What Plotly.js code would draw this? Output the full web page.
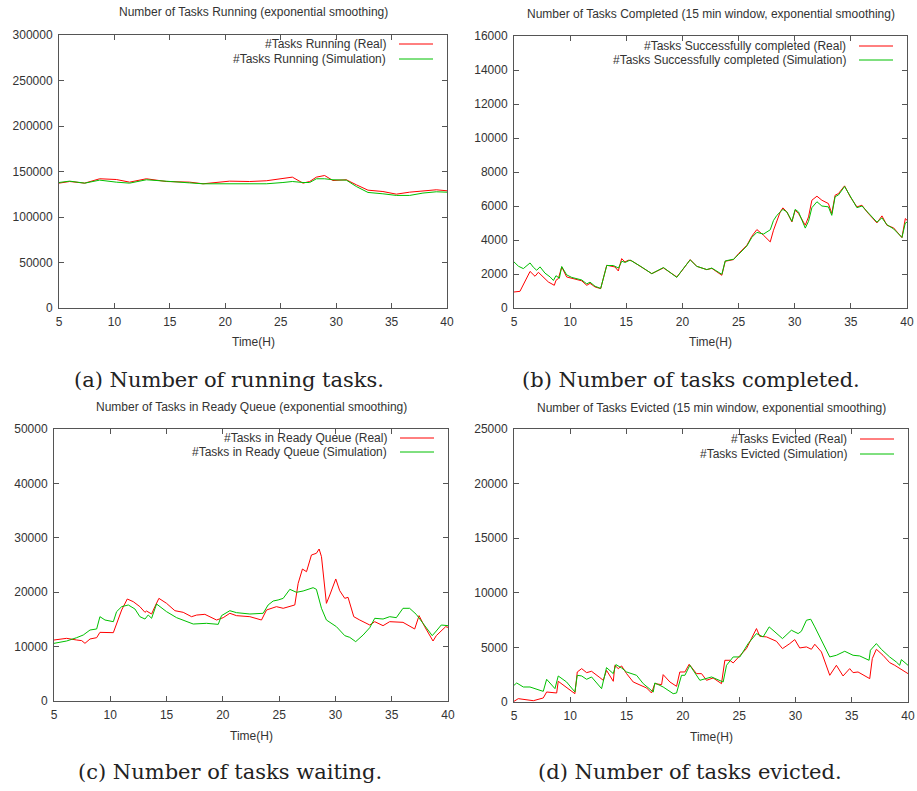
<!DOCTYPE html>
<html><head><meta charset="utf-8">
<script src="https://cdn.plot.ly/plotly-3.0.1.min.js"></script>
<style>html,body{margin:0;padding:0;background:#fff}#chart{width:917px;height:791px}</style>
</head><body><div id="chart"></div>
<script>
// ---------- Data ----------
// (a) Number of tasks running
const aRealT = [5.0,5.96,7.32,8.67,10.17,11.37,12.88,14.68,16.79,17.99,20.39,22.2,23.7,25.2,26.05,27.01,27.61,28.22,28.96,29.71,30.92,31.82,32.87,34.22,35.43,36.63,37.83,39.03,40.0];
const aRealY = [137200,139000,137200,142000,141200,138300,142000,139000,138300,136500,139400,139000,139800,142000,143800,137200,139000,143800,145600,140100,140900,135400,129500,128000,125100,127300,128400,129900,128800];
const aSimT  = aRealT;
const aSimY  = [137900,139400,137200,140500,138300,137200,140900,139000,137500,136500,136500,136800,136500,137900,139000,137900,137900,142000,142000,140900,140500,133500,127000,125500,123700,123700,126300,127700,127300];

// (b) Number of tasks completed
const bRealT = [5.0,5.53,6.43,6.87,7.17,7.61,8.06,8.59,8.74,8.95,9.25,9.69,10.59,11.03,11.48,11.77,12.22,12.72,13.26,13.99,14.29,14.59,14.88,15.18,15.47,16.23,17.27,18.31,19.5,19.94,20.69,21.28,22.17,22.62,23.51,23.81,24.55,25.0,25.74,26.18,26.63,27.22,27.82,28.11,28.41,28.71,28.95,29.3,29.75,30.04,30.34,30.64,30.94,31.23,31.53,31.98,32.42,33.0,33.3,33.6,33.9,34.44,34.95,35.54,35.99,36.43,37.32,37.77,38.21,38.81,39.55,39.85,40.0];
const bRealY = [942,980,2150,1865,2100,1826,1530,1335,1630,1730,2415,1826,1670,1600,1335,1450,1237,1140,2513,2415,2180,2905,2710,2807,2780,2454,2022,2356,1826,2180,2847,2450,2258,2330,1924,2748,2847,3200,3690,4220,4613,4280,3887,4574,5163,5654,5890,5654,5065,5750,5556,5202,4869,5360,6340,6576,6340,6144,5556,6635,6733,7185,6537,5948,6046,5654,5006,5418,4869,4712,4142,5261,5163];
const bSimT  = [5.0,5.39,5.83,6.43,6.72,7.02,7.32,7.76,8.21,8.51,8.74,9.04,9.25,9.69,10.14,10.59,11.03,11.48,11.77,12.22,12.72,13.26,13.85,14.3,14.6,14.9,15.34,16.23,17.27,18.31,19.5,19.94,20.69,21.28,22.17,22.62,23.51,23.81,24.55,25.0,25.74,26.18,26.63,27.22,27.82,28.11,28.41,28.95,29.3,29.75,30.04,30.34,30.64,30.94,31.23,31.53,31.98,32.42,33.0,33.3,33.6,33.9,34.44,34.95,35.54,35.99,36.43,37.32,37.77,38.21,38.81,39.55,39.85,40.0];
const bSimY  = [2710,2460,2317,2650,2400,2220,2420,2050,1830,1620,1900,1750,2440,1950,1800,1720,1650,1420,1520,1280,1150,2500,2500,2350,2750,2680,2820,2470,2020,2380,1800,2200,2830,2450,2260,2350,1980,2770,2870,3150,3650,4150,4450,4350,4600,5150,5450,5800,5650,5100,5800,5650,5200,4700,5100,5900,6250,6000,5950,5450,6550,6650,7150,6600,5900,6000,5700,5050,5300,4900,4650,4150,5000,5050];

// (c) Number of tasks in ready queue
const cRealT = [5.0,6.12,7.01,7.46,7.75,8.2,8.79,9.08,10.27,10.56,11.01,11.51,12.04,12.63,13.08,13.22,13.67,13.96,14.32,15.0,15.74,16.48,17.22,17.67,18.4,19.44,20.03,20.62,21.21,22.4,23.43,23.88,24.76,25.36,25.95,26.39,26.69,27.07,27.43,27.87,28.31,28.55,28.76,29.2,29.5,30.03,30.38,30.83,31.12,31.63,32.16,33.05,33.49,34.23,34.82,36.0,37.04,37.43,37.93,38.67,38.96,39.79,40.0];
const cRealY = [11213,11520,11213,11100,10600,11400,11640,12620,12560,14090,16730,18750,18260,17340,16300,16540,15990,17340,18870,17950,16600,16300,15500,15800,15930,14890,15320,16120,15690,15500,14890,16730,17340,17040,17340,17650,21630,24260,23770,26840,27150,27940,26530,17950,19490,22430,20280,18870,19060,15500,14890,13970,14580,13850,14580,14460,13240,15690,13660,11030,12010,13660,13540];
const cSimT  = [5.0,6.12,7.01,7.6,8.2,8.79,9.08,9.53,10.27,10.56,11.01,11.6,12.19,12.63,13.08,13.37,13.67,14.11,15.0,15.89,17.37,18.55,19.59,19.88,20.62,21.21,22.4,23.58,24.02,24.47,24.91,25.36,25.95,26.54,27.13,28.02,28.31,28.76,29.2,30.09,30.83,31.27,31.8,32.46,33.05,33.49,34.23,34.82,35.41,36.0,36.59,37.18,37.78,38.6,38.96,39.4,40.0];
const cSimY  = [10600,11030,11640,12130,13050,13240,15500,14890,14580,16420,17340,17650,16910,15500,15070,15810,15200,17830,16420,15320,14150,14280,14090,15690,16600,16240,15990,16120,17650,18380,18570,18870,20530,19980,20220,20830,20530,17040,14890,13660,12010,11700,10910,12130,13480,15200,15070,15500,15320,17040,17040,15930,14280,12010,12870,13970,13850];

// (d) Number of tasks evicted
const dRealT = [5.0,5.38,6.72,7.6,7.9,8.79,8.93,10.12,10.41,10.62,11.01,11.45,11.89,12.63,12.93,13.22,13.82,13.96,14.26,14.56,15.0,15.59,16.78,17.22,17.51,18.11,18.25,18.85,19.44,19.73,20.18,20.56,21.21,21.66,22.1,22.69,23.43,23.73,24.17,24.47,25.06,25.65,26.09,26.54,26.83,27.43,28.31,28.85,29.5,29.94,30.38,30.98,31.42,31.72,32.31,33.05,33.64,34.23,34.82,35.12,35.56,36.15,36.6,36.83,37.19,37.78,38.37,38.82,39.26,40.0];
const dRealY = [60,305,120,370,917,825,1895,917,764,2750,3056,2690,2812,2231,1986,2900,1895,3362,3056,3300,2600,1834,1284,825,1681,1590,2506,1834,1436,2750,2750,3454,2598,2598,1986,2200,1681,3820,3820,3576,4279,4890,5807,6724,6020,5960,5562,4890,5349,5715,4950,5043,4829,5288,4584,2445,3362,2384,3056,2690,2750,2384,2139,3973,4829,4279,3606,3362,3056,2598];
const dSimT  = [5.0,5.24,5.83,6.42,7.31,7.6,7.9,8.64,8.93,9.67,10.41,10.62,11.01,11.45,11.89,12.78,13.22,13.82,14.05,14.56,15.0,15.89,16.48,17.37,17.51,18.25,19.14,19.44,19.88,20.18,20.62,21.51,22.55,23.58,23.88,24.47,25.06,25.8,26.54,27.13,27.67,28.31,28.85,29.64,30.24,30.53,30.98,31.36,31.72,33.05,33.64,34.38,35.12,35.71,36.54,36.66,37.19,37.63,38.37,38.96,39.26,39.41,40.0];
const dSimY  = [1528,1742,1375,1375,1070,978,2078,1222,2384,1834,917,2445,2384,2078,2292,1222,3148,2598,3423,3117,2750,2445,1681,917,1742,1375,764,825,2445,2445,3362,1986,2292,1834,3362,4126,4126,5349,6265,5960,6877,6265,5807,6571,6265,6480,7488,7580,6877,4126,4279,4645,4279,4218,3820,4737,5349,4829,4126,3667,3362,3881,3362];

// Text
const titles = [
  "Number of Tasks Running (exponential smoothing)",
  "Number of Tasks Completed (15 min window, exponential smoothing)",
  "Number of Tasks in Ready Queue (exponential smoothing)",
  "Number of Tasks Evicted (15 min window, exponential smoothing)"
];
const legendReal = ["#Tasks Running (Real)","#Tasks Successfully completed (Real)","#Tasks in Ready Queue (Real)","#Tasks Evicted (Real)"];
const legendSim  = ["#Tasks Running (Simulation)","#Tasks Successfully completed (Simulation)","#Tasks in Ready Queue (Simulation)","#Tasks Evicted (Simulation)"];
const captions = ["(a) Number of running tasks.","(b) Number of tasks completed.","(c) Number of tasks waiting.","(d) Number of tasks evicted."];
const xTickVals = [5,10,15,20,25,30,35,40];
const yMax = [300000,16000,50000,25000];
const yStep = [50000,2000,10000,5000];
const xTitle = "Time(H)";

// ---------- Layout (pixels -> paper) ----------
const W = 917, H = 791;
const px = x => x / W;
const py = y => 1 - y / H;
// plot boxes in pixels [left, right, top, bottom]
const boxes = [[59,447,35,308],[514,907,36,308],[54,448,429,701],[514,908,429,702]];
const titleY = [12,14,407,408];
const xtitleY = [342,342,736,737];
const capPos = [[229,380],[691,380],[230,772],[690,772]];
const legEnd = [388,848,389,849];
const legRows = [[44,59],[46,60],[438,452],[439,454]];

const RED = "#ff0000", GREEN = "#00c000";
const series = [
  [aRealT,aRealY,aSimT,aSimY],
  [bRealT,bRealY,bSimT,bSimY],
  [cRealT,cRealY,cSimT,cSimY],
  [dRealT,dRealY,dSimT,dSimY]
];

const traces = [];
const layout = {
  width: W, height: H, margin: {l:0,r:0,t:0,b:0},
  paper_bgcolor: "#fff", plot_bgcolor: "#fff",
  showlegend: false,
  font: {family: "Liberation Sans, Arial, sans-serif", size: 12, color: "#333"},
  annotations: [], shapes: []
};

const tickFont = {family: "Liberation Sans, Arial, sans-serif", size: 12, color: "#333"};
const smallFont = {family: "Liberation Sans, Arial, sans-serif", size: 12, color: "#333"};

series.forEach((s, i) => {
  const n = i + 1;
  const xa = "x" + (n === 1 ? "" : n), ya = "y" + (n === 1 ? "" : n);
  traces.push({x: s[0], y: s[1], xaxis: xa, yaxis: ya, type: "scatter", mode: "lines",
               line: {color: RED, width: 1}, name: legendReal[i], hoverinfo: "skip"});
  traces.push({x: s[2], y: s[3], xaxis: xa, yaxis: ya, type: "scatter", mode: "lines",
               line: {color: GREEN, width: 1}, name: legendSim[i], hoverinfo: "skip"});
  const b = boxes[i];
  const yt = [];
  for (let v = 0; v <= yMax[i]; v += yStep[i]) yt.push(v);
  const common = {showgrid: false, zeroline: false, showline: true, linecolor: "#555", linewidth: 1,
                  mirror: "ticks", ticks: "inside", ticklen: 5, tickcolor: "#555", tickwidth: 1,
                  tickfont: tickFont, fixedrange: true};
  layout["xaxis" + (n === 1 ? "" : n)] = Object.assign({}, common, {
    domain: [px(b[0]), px(b[1])], anchor: ya, range: [5, 40],
    tickmode: "array", tickvals: xTickVals, ticktext: xTickVals.map(String), ticklabelstandoff: 3
  });
  layout["yaxis" + (n === 1 ? "" : n)] = Object.assign({}, common, {
    domain: [py(b[3]), py(b[2])], anchor: xa, range: [0, yMax[i]],
    tickmode: "array", tickvals: yt, ticktext: yt.map(String), ticklabelstandoff: 3
  });
  const cx = (b[0] + b[1]) / 2;
  layout.annotations.push({text: titles[i], xref: "paper", yref: "paper", x: px(cx), y: py(titleY[i]),
    xanchor: "center", yanchor: "middle", showarrow: false, font: smallFont});
  layout.annotations.push({text: xTitle, xref: "paper", yref: "paper", x: px(cx), y: py(xtitleY[i]),
    xanchor: "center", yanchor: "middle", showarrow: false, font: smallFont});
  layout.annotations.push({text: captions[i], xref: "paper", yref: "paper", x: px(capPos[i][0]), y: py(capPos[i][1]),
    xanchor: "center", yanchor: "middle", showarrow: false,
    font: {family: "DejaVu Serif, Liberation Serif, serif", size: 21, color: "#222"}});
  [legendReal[i], legendSim[i]].forEach((t, k) => {
    const yy = legRows[i][k];
    layout.annotations.push({text: t, xref: "paper", yref: "paper", x: px(legEnd[i]), y: py(yy),
      xanchor: "right", yanchor: "middle", showarrow: false, font: smallFont});
    layout.shapes.push({type: "line", xref: "paper", yref: "paper",
      x0: px(legEnd[i] + 11), x1: px(legEnd[i] + 45), y0: py(yy), y1: py(yy),
      line: {color: k === 0 ? RED : GREEN, width: 1}});
  });
});

Plotly.newPlot("chart", traces, layout, {staticPlot: true, displayModeBar: false});
</script></body></html>
